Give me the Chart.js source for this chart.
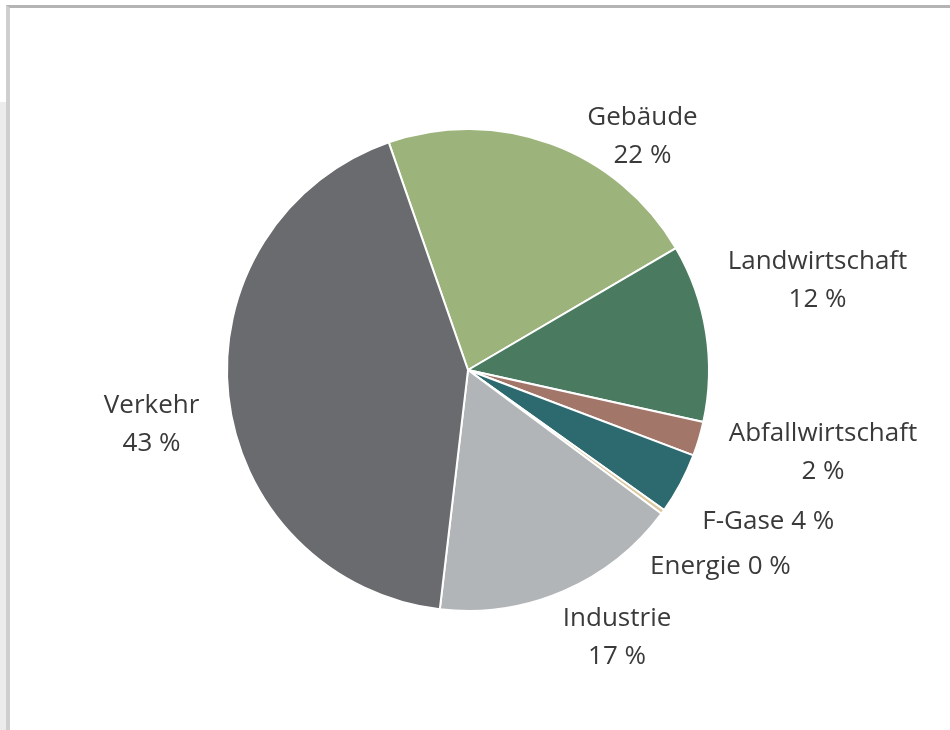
<!DOCTYPE html>
<html lang="de">
<head>
    <meta charset="UTF-8">
    <title>Emissionen nach Sektoren</title>
    <script src="https://cdn.jsdelivr.net/npm/chart.js"></script>
    <style>
        html, body { margin: 0; padding: 0; background: #fff; }
        .page { position: relative; width: 950px; height: 730px; overflow: hidden; }
        .strip { position: absolute; left: 0; top: 102px; width: 6px; bottom: 0; background: #ececec; }
        .frame { position: absolute; left: 6px; top: 5px; right: -10px; bottom: -10px;
                 border-top: 3px solid #b4b4b4; border-left: 4px solid #cfcfcf; }
        canvas { position: absolute; left: 0; top: 0; }
    </style>
</head>
<body>
<div class="page">
    <div class="strip"></div>
    <div class="frame"></div>
    <canvas id="pie" width="950" height="730"></canvas>
</div>

<script>
    // Anteile der Sektoren (in %), im Uhrzeigersinn ab Gebäude
    const sectors = ['Gebäude', 'Landwirtschaft', 'Abfallwirtschaft', 'F-Gase', 'Energie', 'Industrie', 'Verkehr'];
    const shares = [21.9, 11.9, 2.3, 4.1, 0.3, 16.7, 42.8];
    const sliceColors = ['#9cb47b', '#4a7b61', '#a3766a', '#2d6a6f', '#dcc9a2', '#b2b5b7', '#6a6b6f'];

    // label placement: angle from top (deg, clockwise) and distance in radii
    const labelSpots = [
        { angle: 36.4, dist: 1.22, lines: 2 },
        { angle: 75.2, dist: 1.50, lines: 2 },
        { angle: 102.7, dist: 1.51, lines: 2 },
        { angle: 116.3, dist: 1.39, lines: 1 },
        { angle: 127.5, dist: 1.32, lines: 1 },
        { angle: 150.6, dist: 1.26, lines: 2 },
        { angle: 260.8, dist: 1.33, lines: 2 }
    ];

    const outsideLabels = {
        id: 'outsideLabels',
        afterDatasetsDraw(chart) {
            const ctx = chart.ctx;
            const arcs = chart.getDatasetMeta(0).data;
            ctx.save();
            ctx.font = '26px "Open Sans", Lato, sans-serif';
            ctx.fillStyle = '#3a3a3a';
            ctx.textAlign = 'center';
            ctx.textBaseline = 'middle';
            arcs.forEach((arc, i) => {
                const spot = labelSpots[i];
                const a = (spot.angle - 90) * Math.PI / 180;
                const r = arc.outerRadius * spot.dist;
                const x = arc.x + Math.cos(a) * r;
                const y = arc.y + Math.sin(a) * r + 3;
                const pct = Math.round(shares[i]) + ' %';
                if (spot.lines === 2) {
                    ctx.fillText(sectors[i], x, y - 19);
                    ctx.fillText(pct, x, y + 19);
                } else {
                    ctx.fillText(sectors[i] + ' ' + pct, x, y);
                }
            });
            ctx.restore();
        }
    };

    new Chart(document.getElementById('pie'), {
        type: 'pie',
        data: {
            labels: sectors,
            datasets: [{
                data: shares,
                backgroundColor: sliceColors,
                borderColor: '#ffffff',
                borderWidth: 2,
                radius: 241
            }]
        },
        options: {
            responsive: false,
            animation: false,
            rotation: -19.2,
            layout: { padding: { left: 0, right: 14, top: 10, bottom: 0 } },
            plugins: {
                legend: { display: false },
                tooltip: { enabled: false }
            }
        },
        plugins: [outsideLabels]
    });
</script>
</body>
</html>
